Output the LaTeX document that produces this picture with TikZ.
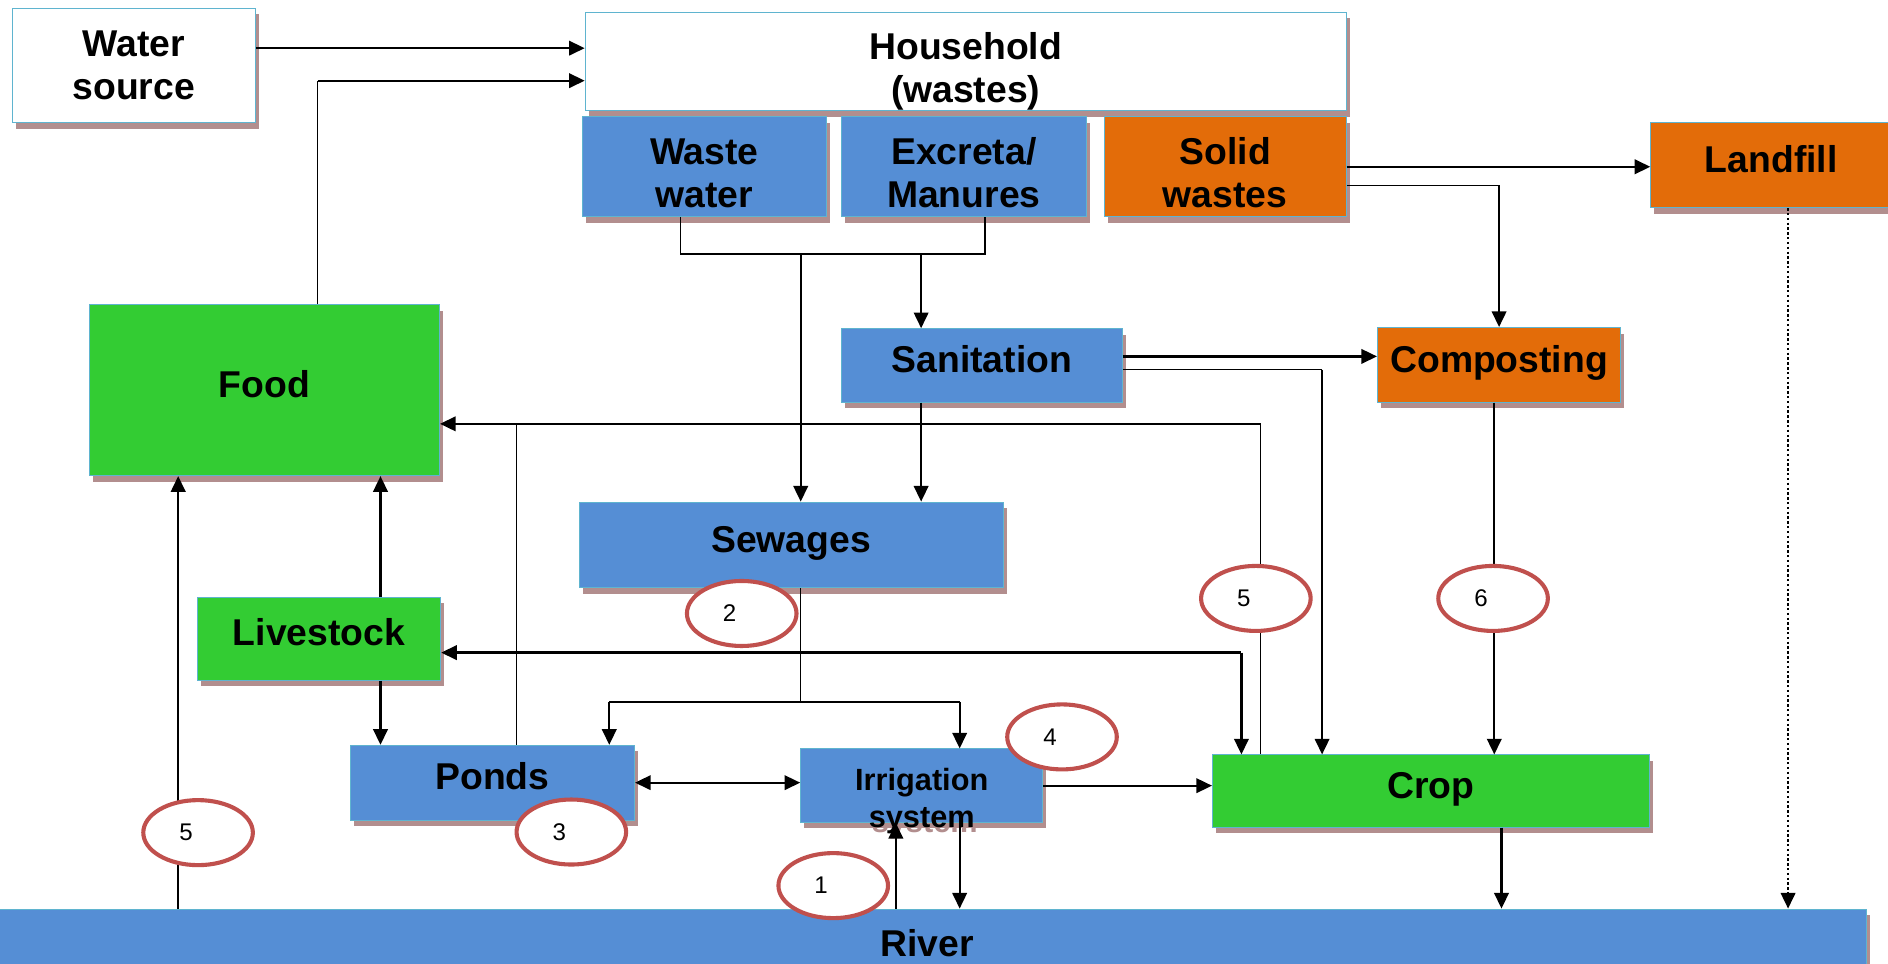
\documentclass[tikz,border=0pt]{standalone}
\usepackage{fontspec}
\setmainfont{Liberation Sans}
\usetikzlibrary{arrows.meta,shadows,shapes.geometric,calc}

\definecolor{boxblue}{HTML}{558ED5}
\definecolor{boxorange}{HTML}{E36C09}
\definecolor{boxgreen}{HTML}{33CC33}
\definecolor{edgecyan}{HTML}{5FB4CF}
\definecolor{shade}{HTML}{B28E8E}
\definecolor{ringred}{HTML}{C0504D}

% digit inside a ring, set a little left of the ring centre
\newcommand\ringnum[1]{\makebox[0pt]{\hspace*{-20pt}#1}}
% tall strut on a first line, pushing a two-line label a little lower
\newcommand\topgap{\rule{0pt}{32pt}}

\begin{document}
\begin{tikzpicture}[x=1pt,y=-1pt,
  box/.style={draw=edgecyan, line width=0.8pt, fill=#1, inner sep=0pt, align=center,
    font=\fontsize{31}{36}\selectfont\bfseries,
    drop shadow={shadow xshift=3pt, shadow yshift=-5pt, fill=shade, opacity=1, draw=none}},
  oneline/.style={text height=23pt, text depth=11pt},
  dims/.style 2 args={minimum width=#1pt, minimum height=#2pt},
  title/.style={align=center, inner sep=0pt, font=\fontsize{31}{36}\selectfont\bfseries},
  small/.style={align=center, inner sep=0pt, font=\fontsize{25.5}{31}\selectfont\bfseries},
  ring/.style={ellipse, draw=ringred, line width=3.4pt, fill=white, inner sep=0pt,
    minimum width=91pt, minimum height=54pt, font=\fontsize{20}{22}\selectfont},
  flow/.style={line width=1.9pt, -{Triangle[length=13pt,width=12pt]}},
  both/.style={line width=1.9pt, {Triangle[length=13pt,width=12pt]}-{Triangle[length=13pt,width=12pt]}},
  feed/.style={line width=1pt},
]
\fill[white] (0,0) rectangle (1568,800);
\useasboundingbox (0,0) rectangle (1568,800);

% ---- boxes ----
\node[box=white, dims={202}{95}] (ws) at (111,54.5) {Water\\source};
\node[box=white, dims={632}{82}] (hh) at (802,51) {};
\node[box=boxblue, dims={202}{83}] (ww) at (585,138.5) {Waste\topgap\\water};
\node[box=boxblue, dims={203}{83}] (ex) at (800.5,138.5) {Excreta/\topgap\\Manures};
\node[box=boxorange, dims={201}{83}] (sw) at (1017.5,138.5) {Solid\topgap\\wastes};
\node[title] (hhtext) at (802,59.5) {Household\\(wastes)};
\node[box=boxorange, dims={200}{71}, oneline] (lf) at (1471,137) {Landfill};
\node[box=boxgreen, dims={291}{142}, oneline] (food) at (219.5,324) {Food};
\node[box=boxblue, dims={233}{61}, oneline] (san) at (815.5,303.5) {Sanitation};
\node[box=boxorange, dims={202}{62}, oneline] (comp) at (1245,303) {Composting};
\node[box=boxblue, dims={352}{71}, oneline] (sew) at (657,452.5) {Sewages};
\node[box=boxgreen, dims={202}{69}, oneline] (live) at (265,530.5) {Livestock};
\node[box=boxblue, dims={236}{62}, oneline] (ponds) at (409,650) {Ponds};
\node[small, text=shade] (irrshade) at (768,669) {Irrigation\\system};
\node[box=boxblue, dims={201}{61}] (irr) at (765.5,652.5) {};
\node[small] (irrtext) at (765.5,665) {Irrigation\\system};
\node[box=boxgreen, dims={363}{60}, oneline] (crop) at (1188.5,657) {Crop};
\node[box=boxblue, dims={1560}{66}, oneline] (river) at (770,788) {River};

% ---- water supply to the household ----
\draw[flow] ([yshift=14.5pt]ws.east) -- ([yshift=11pt]hh.west);
\coordinate (j1) at (264,67);
\draw[feed] (food.north -| j1) -- (j1);
\draw[flow] (j1) -- (hh.west |- j1);

% ---- liquid wastes ----
\coordinate (b1) at (565,211); \coordinate (b2) at (818,211);
\coordinate (b3) at (665,211); \coordinate (b4) at (765,211);
\draw[feed] (ww.south -| b1) -- (b1) -- (b2) -- (ex.south -| b2);
\draw[flow] (b3) -- (sew.north -| b3);
\draw[flow] (b4) -- (san.north -| b4);
\draw[flow] (san.south -| b4) -- (sew.north -| b4);

% ---- solid wastes ----
\draw[flow] (sw.east) -- (lf.west |- sw.east);
\coordinate (s1) at (1245,154);
\draw[feed] (sw.east |- s1) -- (s1);
\draw[flow] (s1) -- (comp.north -| s1);

% ---- sanitation outputs ----
\draw[flow] ([yshift=7.5pt]san.east) -- ([yshift=7pt]comp.west);
\coordinate (s2) at (1098,307);
\draw[feed] (san.east |- s2) -- (s2);
\draw[flow] (s2) -- (crop.north -| s2);

% ---- back to food ----
\coordinate (f1) at (1047,352);
\draw[feed] (crop.north -| f1) -- (f1);
\draw[flow] (f1) -- (food.east |- f1);
\coordinate (p1) at (429,352);
\draw[feed] (ponds.north -| p1) -- (p1);

% ---- sewage reuse ----
\coordinate (w1) at (665,583); \coordinate (w2) at (506,583); \coordinate (w3) at (797,583);
\draw[feed] (sew.south -| w1) -- (w1);
\draw[feed] (w2) -- (w3);
\draw[flow] (w2) -- (ponds.north -| w2);
\draw[flow] (w3) -- (irr.north -| w3);

% ---- livestock ----
\coordinate (l1) at (1031,542);
\draw[flow] (l1) -- (live.east |- l1);
\draw[flow] (l1) -- (crop.north -| l1);
\coordinate (l2) at (316,0);
\draw[flow] (live.north -| l2) -- (food.south -| l2);
\draw[flow] (live.south -| l2) -- (ponds.north -| l2);

% ---- ponds, irrigation, crop ----
\draw[both] (ponds.east) -- (irr.west |- ponds.east);
\draw[flow] (irr.east) -- (crop.west |- irr.east);
\coordinate (r5) at (1241,0);
\draw[flow] (comp.south -| r5) -- (crop.north -| r5);

% ---- river exchanges ----
\coordinate (r1) at (744,0);
\draw[flow] (river.north -| r1) -- (irr.south -| r1);
\draw[flow] (irr.south -| w3) -- (river.north -| w3);
\coordinate (r2) at (1247,0);
\draw[flow] (crop.south -| r2) -- (river.north -| r2);
\coordinate (r3) at (1485,0);
\draw[flow, dash pattern=on 2pt off 2pt] (lf.south -| r3) -- (river.north -| r3);
\coordinate (r4) at (148,0);
\draw[flow] (river.north -| r4) -- (food.south -| r4);

% ---- numbered rings ----
\node[ring] (e2) at (616,509.5) {\ringnum{2}};
\node[ring] (e5a) at (1043,497) {\ringnum{5}};
\node[ring] (e6) at (1240,497) {\ringnum{6}};
\node[ring] (e4) at (882,612) {\ringnum{4}};
\node[ring] (e3) at (474.5,691) {\ringnum{3}};
\node[ring] (e5b) at (164.5,691.5) {\ringnum{5}};
\node[ring] (e1) at (692,735.5) {\ringnum{1}};
\end{tikzpicture}
\end{document}
